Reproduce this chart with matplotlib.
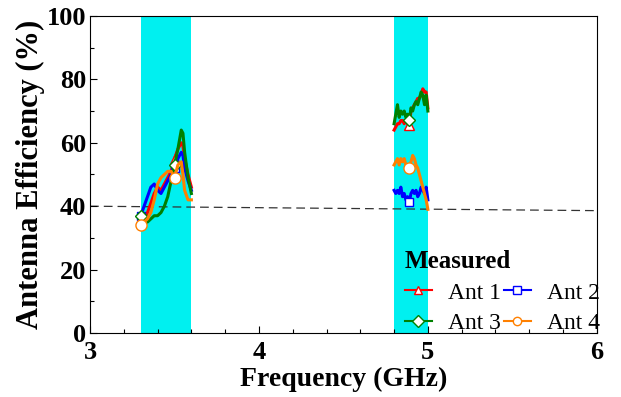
import matplotlib.pyplot as plt

plt.rcParams['font.family'] = 'Liberation Serif'

# band 1 (3.3 - 3.6 GHz)
f1 = [3.30, 3.32, 3.34, 3.36, 3.38, 3.40, 3.42, 3.44, 3.46, 3.48, 3.50,
      3.52, 3.54, 3.55, 3.56, 3.58, 3.60]
ant1_b1 = [35, 36, 38, 41, 44, 46, 45, 47, 49, 51, 55, 58, 60, 59, 55, 50, 46]
ant2_b1 = [37, 40, 43, 46, 47, 45, 44, 46, 48, 50, 52, 55, 57, 56, 52, 48, 45]
ant3_b1 = [37, 35, 35, 36, 37, 37, 38, 40, 43, 48, 53, 58, 64, 63, 57, 49, 44]
ant4_b1 = [34, 35, 36, 38, 42, 47, 49, 50, 51, 51, 49, 53, 54, 50, 45, 42, 42]

# band 2 (4.8 - 5.0 GHz)
f2 = [4.80, 4.81, 4.82, 4.83, 4.84, 4.85, 4.86, 4.87, 4.88, 4.89, 4.90,
      4.91, 4.92, 4.93, 4.94, 4.95, 4.96, 4.97, 4.98, 4.99, 5.00]
ant1_b2 = [64, 65, 66, 66, 67, 67, 66, 67, 66, 65.5, 70, 71, 72, 73, 74, 74,
           75, 77, 76, 76, 71]
ant2_b2 = [45, 44, 45, 44, 46, 43, 44, 42, 43, 41.3, 44, 45, 44, 45, 43, 44,
           46, 45, 44, 46, 42]
ant3_b2 = [66, 69, 72, 68, 70, 69, 70, 68, 69, 67.2, 71, 70, 72, 73, 72, 74,
           76, 75, 72, 75, 70]
ant4_b2 = [53, 54, 55, 53, 55, 54, 55, 53, 52, 52, 54, 56, 55, 53, 52, 50,
           48, 46, 44, 42, 39]

mark_freqs = [3.30, 3.50, 4.89]

limit_f = [3.0, 6.0]
limit_v = [40.0, 38.6]

bands = [(3.3, 3.6), (4.8, 5.0)]

names = ['Ant 1', 'Ant 2', 'Ant 3', 'Ant 4']
colors = ['#ff0000', '#0000ff', '#008000', '#ff8000']
markers = ['^', 's', 'D', 'o']
msizes = [7, 6, 6, 8]
series = [(ant1_b1, ant1_b2), (ant2_b1, ant2_b2),
          (ant3_b1, ant3_b2), (ant4_b1, ant4_b2)]

fig = plt.figure(figsize=(6.21, 3.97), dpi=100)
ax = fig.add_axes([0.145, 0.161, 0.816, 0.799])

for lo, hi in bands:
    ax.axvspan(lo, hi, color='#00f0f0', lw=0, zorder=0)

ax.plot(limit_f, limit_v, '--', color='#333333', lw=0.9, dashes=(7, 4), zorder=1)

handles = {}
for name, col, mk, ms, (b1, b2) in zip(names, colors, markers, msizes, series):
    for ff, vv in ((f1, b1), (f2, b2)):
        idx = [i for i, x in enumerate(ff) if any(abs(x - m) < 1e-6 for m in mark_freqs)]
        h, = ax.plot(ff, vv, color=col, lw=2.2, marker=mk, ms=ms,
                     mfc='white', mec=col, mew=1.0, markevery=idx, label=name)
    handles[name] = h

ax.set_xlim(3, 6)
ax.set_ylim(0, 100)
ax.set_xticks([3, 4, 5, 6])
ax.set_xticks([3 + 0.2 * i for i in range(16)], minor=True)
ax.set_yticks([0, 20, 40, 60, 80, 100])
ax.set_yticks(range(0, 101, 10), minor=True)
ax.tick_params(direction='in', which='both', labelsize=19, width=0.8)
ax.tick_params(which='major', length=5)
ax.tick_params(which='minor', length=3)
ax.tick_params(axis='x', which='major', pad=6)
ax.tick_params(axis='y', which='major', pad=3)
for lab in ax.get_xticklabels() + ax.get_yticklabels():
    lab.set_fontweight('bold')
for sp in ax.spines.values():
    sp.set_linewidth(0.8)

ax.set_xlabel('Frequency (GHz)', fontsize=20, fontweight='bold', labelpad=2)
ax.set_ylabel('Antenna Efficiency (%)', fontsize=22, fontweight='bold', labelpad=1)

# column-wise fill: row 1 -> Ant 1, Ant 2 ; row 2 -> Ant 3, Ant 4
order = ['Ant 1', 'Ant 3', 'Ant 2', 'Ant 4']
leg = ax.legend(handles=[handles[n] for n in order], ncol=2, loc='lower right',
                bbox_to_anchor=(1.007, -0.003),
                frameon=False, title='Measured', alignment='left', fontsize=17,
                title_fontproperties={'weight': 'bold', 'size': 18},
                handlelength=1.15, handletextpad=0.7, columnspacing=0.1,
                labelspacing=0.38, borderaxespad=0.0, borderpad=0.0)
for h in leg.legend_handles:
    h.set_linewidth(1.5)
    h.set_markersize(6)

fig.savefig('out.png', dpi=100)
